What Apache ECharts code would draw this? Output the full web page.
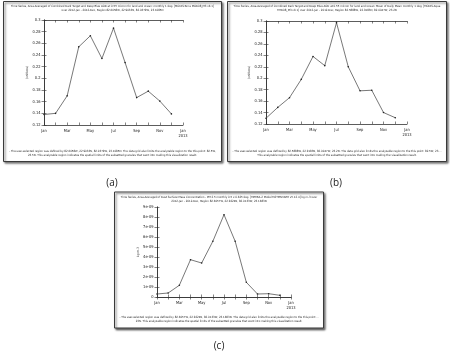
<!doctype html>
<html>
    <head>
        <meta charset="utf-8">
        <title>Area-averaged time series, 2012</title>
        <script src="https://cdn.jsdelivr.net/npm/echarts@6/dist/echarts.min.js"></script>
        <style>
            html, body { margin: 0; padding: 0; background: #fff; }
            #main { width: 450px; height: 355px; }
        </style>
    </head>
    <body>
        <div id="main"></div>
        <script>
            // month ticks, Jan 2012 .. Jan 2013
            var monthLabels = ['Jan', '', 'Mar', '', 'May', '', 'Jul', '', 'Sep', '', 'Nov', '', 'Jan\n2013'];

            // (a) MODIS-Terra AOD
            var aodTerra = [0.138, 0.140, 0.170, 0.254, 0.273, 0.234, 0.286, 0.227, 0.167, 0.178, 0.161, 0.139];
            // (b) MODIS-Aqua AOD
            var aodAqua = [0.130, 0.149, 0.166, 0.198, 0.238, 0.222, 0.297, 0.220, 0.178, 0.179, 0.140, 0.131];
            // (c) MERRA-2 dust PM2.5, kg m-3
            var dustPm25 = [0.3e-9, 0.4e-9, 1.17e-9, 3.73e-9, 3.4e-9, 5.57e-9, 8.23e-9, 5.57e-9, 1.47e-9, 0.3e-9, 0.33e-9, 0.17e-9];

            var titles = {
                a: ['Time Series, Area-Averaged of Combined Dark Target and Deep Blue AOD at 0.55 micron for land and ocean: monthly 1 deg. [MODIS-Terra MOD08_M3 v6.1]',
                    'over 2012-Jan - 2012-Dec, Region 82.6058W, 22.9033N, 82.0379W, 23.1085N'],
                b: ['Time Series, Area-Averaged of Combined Dark Target and Deep Blue AOD at 0.55 micron for land and ocean: Mean of Daily Mean monthly 1 deg. [MODIS-Aqua',
                    'MYD08_M3 v6.1] over 2012-Jan - 2012-Dec, Region 82.5888W, 22.9183N, 82.0047W, 23.2N'],
                c: ['Time Series, Area-Averaged of Dust Surface Mass Concentration - PM 2.5 monthly 0.5 x 0.625 deg. [MERRA-2 Model M2TMNXAER v5.12.4] kg m-3 over',
                    '2012-Jan - 2012-Dec, Region 82.6057W, 22.9224N, 82.0133W, 23.1683N']
            };
            var notes = {
                a: ['- The user-selected region was defined by 82.6058W, 22.9033N, 82.0379W, 23.1085N. The data grid also limits the analyzable region to the this point: 82.5W,',
                    '23.5N. This analyzable region indicates the spatial limits of the subsetted granules that went into making this visualization result.'],
                b: ['- The user-selected region was defined by 82.5888W, 22.9183N, 82.0047W, 23.2N. The data grid also limits the analyzable region to the this point: 82.5W, 23.5N.',
                    'This analyzable region indicates the spatial limits of the subsetted granules that went into making the visualization result.'],
                c: ['- The user-selected region was defined by 82.6057W, 22.9224N, 82.0133W, 23.1683N. The data grid also limits the analyzable region to the this point: 82.5W,',
                    '23N. This analyzable region indicates the spatial limits of the subsetted granules that went into making this visualization result.']
            };

            var chart = echarts.init(document.getElementById('main'));

            var tinyFont = '"Liberation Sans Narrow", "DejaVu Sans Condensed", sans-serif';
            var ink = '#333';

            // panel frames: x, y, w, h, and the grid inside
            var panels = [
                { key: 'a', box: [3.5, 1.5, 218, 160], grid: { left: 44, top: 20, width: 139, height: 105 },
                  min: 0.12, max: 0.3, interval: 0.02, data: aodTerra, yName: '(unitless)', caption: [112, 183] },
                { key: 'b', box: [227.5, 1.5, 219, 160], grid: { left: 266, top: 21, width: 141, height: 103 },
                  min: 0.12, max: 0.3, interval: 0.02, data: aodAqua, yName: '(unitless)', caption: [336, 183] },
                { key: 'c', box: [114.5, 192, 209, 136], grid: { left: 157, top: 207, width: 134, height: 90 },
                  min: 0, max: 9e-9, interval: 1e-9, data: dustPm25, yName: 'kg m-3', caption: [219, 346] }
            ];

            function yFmt(v) {
                if (v === 0) return '0';
                if (Math.abs(v) < 1e-6) return Math.round(v / 1e-9) + 'e-09';
                return String(+v.toFixed(2));
            }

            // tiny text, squeezed so a line fits inside its frame
            function tinyText(line, x, y, boxW) {
                return {
                    type: 'text', z: 1, x: x, y: y, scaleX: 1, originX: 0,
                    style: { text: line, x: 0, y: 0, textAlign: 'center', textVerticalAlign: 'middle',
                             font: '2.9px ' + tinyFont, fill: '#222', width: boxW, overflow: 'truncate' }
                };
            }

            var grids = [], xAxes = [], yAxes = [], series = [], graphics = [];

            panels.forEach(function (p, i) {
                var cx = p.box[0] + p.box[2] / 2;
                graphics.push({
                    type: 'rect', z: 0,
                    shape: { x: p.box[0], y: p.box[1], width: p.box[2], height: p.box[3] },
                    style: { fill: '#fff', stroke: '#3a3a3a', lineWidth: 1,
                             shadowBlur: 2, shadowOffsetX: 1.5, shadowOffsetY: 1.5, shadowColor: 'rgba(0,0,0,0.55)' }
                });
                titles[p.key].forEach(function (line, k) {
                    graphics.push(tinyText(line, cx, p.box[1] + 5 + k * 4, p.box[2] - 8));
                });
                notes[p.key].forEach(function (line, k) {
                    graphics.push(tinyText(line, cx, p.box[1] + p.box[3] - 10.5 + k * 4, p.box[2] - 8));
                });
                graphics.push({
                    type: 'text', z: 1,
                    style: { text: '(' + p.key + ')', x: p.caption[0], y: p.caption[1], textAlign: 'center', textVerticalAlign: 'middle',
                             font: '10px "Open Sans", sans-serif', fill: '#222' }
                });

                grids.push(p.grid);

                var lineStyle = { color: ink, width: 0.8 };
                var tick = { show: true, inside: true, length: 2.5, lineStyle: { color: ink, width: 0.6 } };

                // bottom + top x axes (months)
                xAxes.push({
                    type: 'value', gridIndex: i, position: 'bottom', min: 0, max: 12, interval: 1,
                    axisLine: { lineStyle: lineStyle }, axisTick: tick, splitLine: { show: false },
                    axisLabel: { margin: 3.5, fontSize: 4, lineHeight: 5, color: '#222', fontFamily: tinyFont,
                                 showMinLabel: true, showMaxLabel: true,
                                 formatter: function (v) { return monthLabels[Math.round(v)] || ''; } }
                });
                xAxes.push({
                    type: 'value', gridIndex: i, position: 'top', min: 0, max: 12, interval: 1,
                    axisLine: { lineStyle: lineStyle }, axisTick: tick, axisLabel: { show: false }, splitLine: { show: false }
                });

                // left + right y axes
                yAxes.push({
                    type: 'value', gridIndex: i, position: 'left', min: p.min, max: p.max, interval: p.interval,
                    name: p.yName, nameLocation: 'middle', nameRotate: 90, nameGap: p.key === 'c' ? 14 : 11,
                    nameTextStyle: { fontSize: 3.2, color: '#222', fontFamily: tinyFont },
                    axisLine: { lineStyle: lineStyle }, axisTick: tick, splitLine: { show: false },
                    axisLabel: { margin: 3.5, fontSize: 4, color: '#222', fontFamily: tinyFont,
                                 showMinLabel: true, showMaxLabel: true, formatter: yFmt }
                });
                yAxes.push({
                    type: 'value', gridIndex: i, position: 'right', min: p.min, max: p.max, interval: p.interval,
                    axisLine: { lineStyle: lineStyle }, axisTick: tick, axisLabel: { show: false }, splitLine: { show: false }
                });

                series.push({
                    type: 'line', xAxisIndex: i * 2, yAxisIndex: i * 2,
                    data: p.data.map(function (v, m) { return [m, v]; }),
                    symbol: 'circle', symbolSize: 1.6,
                    itemStyle: { color: '#222' },
                    lineStyle: { color: '#555', width: 0.8 },
                    silent: true, animation: false
                });
            });

            chart.setOption({
                backgroundColor: '#fff',
                animation: false,
                grid: grids,
                xAxis: xAxes,
                yAxis: yAxes,
                series: series,
                graphic: graphics
            });

            window.addEventListener('resize', function () {
                chart.resize();
            });
        </script>
    </body>
</html>
